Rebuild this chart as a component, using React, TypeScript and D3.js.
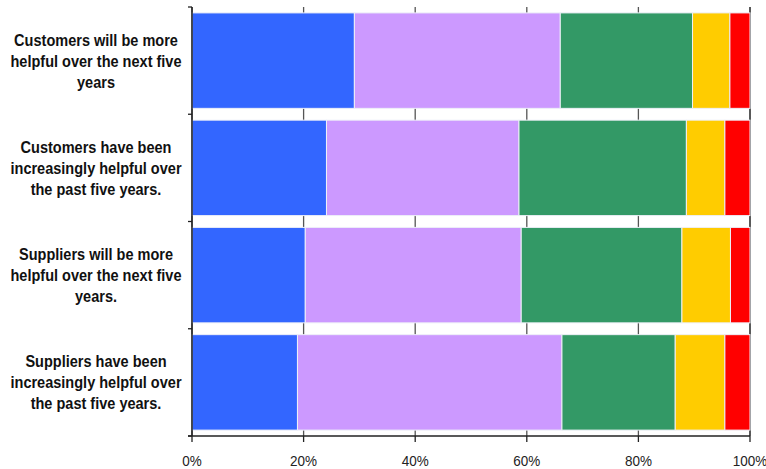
import React from "react";
import * as d3 from "d3";

const categories = [
  ["Customers will be more", "helpful over the next five", "years"],
  ["Customers have been", "increasingly helpful over", "the past five years."],
  ["Suppliers will be more", "helpful over the next five", "years."],
  ["Suppliers have been", "increasingly helpful over", "the past five years."],
];
const seriesNames = ["s1", "s2", "s3", "s4", "s5"];
const seriesColors = ["#3366FF", "#CC99FF", "#339966", "#FFCC00", "#FF0000"];
const s1 = [29.1, 24.1, 20.3, 18.9];
const s2 = [36.9, 34.5, 38.7, 47.4];
const s3 = [23.7, 30.0, 28.8, 20.3];
const s4 = [6.7, 6.9, 8.7, 8.9];
const s5 = [3.6, 4.5, 3.5, 4.5];
const tickValues = [0, 20, 40, 60, 80, 100];

const W = 766;
const H = 469;
const margin = { left: 192, right: 16, top: 7, bottom: 33 };

export default function App() {
  const series = [s1, s2, s3, s4, s5];
  const x = d3.scaleLinear().domain([0, 100]).range([margin.left, W - margin.right]);
  const y = d3
    .scaleBand<number>()
    .domain(categories.map((_, i) => i))
    .range([margin.top, H - margin.bottom])
    .paddingInner(0.11)
    .paddingOuter(0.055);
  const step = y.step();
  const bandTop = margin.top;
  const bandBottom = H - margin.bottom;
  const rows = categories.map((_, i) => {
    let acc = 0;
    return series.map((s, k) => {
      const x0 = acc;
      acc += s[i];
      return { k, x0, x1: acc };
    });
  });
  const font = "'Liberation Sans', Arial, sans-serif";
  return (
    <svg
      width={W}
      height={H}
      style={{ position: "absolute", left: 0, top: 0, background: "#fff" }}
    >
      {/* gridlines */}
      {tickValues.map((t) => (
        <line
          key={"g" + t}
          x1={x(t)}
          x2={x(t)}
          y1={bandTop}
          y2={bandBottom}
          stroke={t === 100 ? "#222" : "#555"}
          strokeWidth={t === 100 ? 1.5 : 1.3}
        />
      ))}
      {/* bars */}
      {rows.map((row, i) =>
        row.map((seg) => (
          <rect
            key={i + "-" + seg.k}
            x={x(seg.x0)}
            y={y(i)!}
            width={x(seg.x1) - x(seg.x0)}
            height={y.bandwidth()}
            fill={seriesColors[seg.k]}
            stroke="#eef0f8"
            strokeWidth={1}
          />
        ))
      )}
      {/* y axis */}
      <line x1={x(0)} x2={x(0)} y1={bandTop} y2={bandBottom} stroke="#222" strokeWidth={1.5} />
      {categories.map((_, i) => (
        <line
          key={"yt" + i}
          x1={x(0) - 4}
          x2={x(0)}
          y1={bandTop + i * step}
          y2={bandTop + i * step}
          stroke="#222"
          strokeWidth={1.3}
        />
      ))}
      <line x1={x(0) - 4} x2={x(0)} y1={bandBottom} y2={bandBottom} stroke="#222" strokeWidth={1.3} />
      {/* x axis */}
      <line x1={x(0) - 4} x2={x(100)} y1={bandBottom} y2={bandBottom} stroke="#222" strokeWidth={1.5} />
      {tickValues.map((t) => (
        <g key={"xt" + t}>
          <line x1={x(t)} x2={x(t)} y1={bandBottom} y2={bandBottom + 6} stroke="#222" strokeWidth={1.3} />
          <g transform={`translate(${x(t)},${bandBottom + 30}) scale(0.9,1)`}>
            <text x={0} y={0} textAnchor="middle" fontFamily={font} fontSize={15} fill="#222">
              {t + "%"}
            </text>
          </g>
        </g>
      ))}
      {/* category labels */}
      {categories.map((lines, i) => {
        const cy = y(i)! + y.bandwidth() / 2;
        return (
          <g key={"c" + i} transform={`translate(96,${cy}) scale(0.855,1)`}>
            <text textAnchor="middle" fontFamily={font} fontWeight="bold" fontSize={17} fill="#111">
              {lines.map((ln, j) => (
                <tspan key={j} x={0} y={(j - 1) * 21 + 6}>
                  {ln}
                </tspan>
              ))}
            </text>
          </g>
        );
      })}
    </svg>
  );
}
